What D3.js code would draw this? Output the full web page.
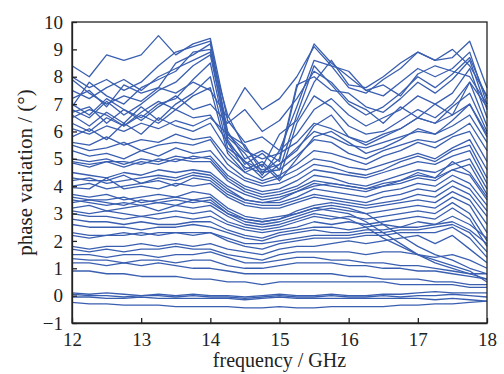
<!DOCTYPE html>
<html>
<head>
<meta charset="utf-8">
<script src="https://cdn.jsdelivr.net/npm/d3@7"></script>
<style>
  body { margin: 0; background: #fff; }
  svg { display: block; }
  text { font-family: "Liberation Serif", "Times New Roman", Times, "DejaVu Serif", serif; }
</style>
</head>
<body>
<svg id="chart"></svg>
<script>
// frequency samples (GHz)
const frequency = [12, 12.25, 12.5, 12.75, 13, 13.25, 13.5, 13.75, 14, 14.25, 14.5, 14.75,
    15, 15.25, 15.5, 15.75, 16, 16.25, 16.5, 16.75, 17, 17.25, 17.5, 17.75, 18];

// lines that peak near 14 GHz then collapse
const peakLines = [
    [8.4, 8.0, 8.8, 8.6, 8.8, 9.5, 8.8, 9.2, 9.4, 6.4, 5.6, 5.8, 5.3, 6.9, 8.6, 8.4, 7.6, 7.4, 7.9, 8.3, 8.9, 8.6, 8.7, 9.3, 7.6],
    [8.0, 7.6, 7.9, 7.5, 7.8, 8.4, 8.9, 9.1, 9.3, 6.0, 5.0, 5.3, 4.9, 7.6, 9.2, 8.5, 8.0, 7.5, 7.3, 7.8, 8.3, 8.0, 8.3, 8.9, 7.0],
    [7.5, 7.2, 7.6, 7.9, 7.5, 8.0, 8.3, 8.6, 8.9, 6.6, 5.4, 4.7, 5.9, 6.4, 7.8, 8.6, 7.7, 7.6, 8.0, 8.5, 8.9, 8.6, 9.0, 8.4, 7.3],
    [7.2, 7.5, 6.9, 7.7, 7.4, 7.6, 8.5, 8.8, 9.2, 5.9, 5.5, 4.5, 5.0, 7.7, 8.0, 7.5, 7.4, 6.9, 6.7, 7.2, 7.8, 7.4, 7.9, 8.6, 6.8],
    [6.9, 7.8, 7.3, 7.0, 7.6, 7.9, 8.2, 8.9, 9.0, 5.7, 4.8, 5.2, 4.6, 6.6, 8.4, 7.7, 7.0, 6.6, 6.9, 7.4, 8.0, 7.6, 8.1, 8.7, 7.2],
    [6.8, 6.5, 7.1, 6.6, 7.0, 7.5, 7.8, 8.4, 8.8, 5.8, 5.2, 4.4, 5.3, 5.9, 6.8, 7.2, 6.6, 6.2, 6.5, 6.8, 7.3, 7.0, 7.4, 8.3, 6.5],
    [6.7, 6.9, 6.3, 6.8, 6.5, 7.0, 7.2, 7.9, 8.5, 5.6, 4.6, 4.9, 4.3, 6.3, 7.3, 6.9, 6.2, 5.9, 6.0, 6.4, 6.8, 6.5, 7.0, 7.8, 6.2],
    [6.6, 6.2, 6.7, 6.3, 6.9, 6.4, 7.0, 7.4, 8.0, 5.4, 4.9, 4.3, 4.8, 5.3, 6.2, 6.6, 5.8, 5.5, 5.8, 6.1, 6.5, 6.3, 6.9, 7.4, 6.0],
    [6.5, 6.8, 6.6, 6.2, 6.7, 7.1, 6.8, 7.3, 7.6, 5.2, 4.5, 4.8, 4.2, 5.0, 5.8, 6.0, 5.6, 5.2, 5.4, 5.7, 6.1, 5.9, 6.4, 7.0, 5.8]
];

// lines with a bump around 14.5 GHz
const bumpLines = [
    [7.9, 7.4, 7.0, 7.3, 7.1, 7.6, 7.4, 7.8, 7.5, 6.5, 7.6, 6.8, 7.2, 8.0, 9.1, 8.4, 8.2, 7.5, 7.7, 7.3, 8.1, 8.4, 8.2, 8.0, 7.0],
    [7.0, 6.6, 7.2, 6.8, 6.4, 6.9, 7.3, 6.8, 7.0, 6.3, 6.8, 6.0, 6.4, 7.2, 8.2, 7.8, 7.1, 6.8, 6.3, 6.9, 6.5, 7.0, 6.6, 7.8, 6.9]
];

// middle band, 4.8 to 6.3 at 12 GHz
const midLines = [
    [6.3, 6.0, 6.5, 6.2, 6.6, 6.3, 6.8, 6.5, 6.6, 5.6, 4.9, 4.6, 4.8, 5.4, 6.0, 5.8, 5.5, 5.4, 5.6, 5.8, 6.0, 5.9, 6.2, 6.6, 5.6],
    [6.1, 5.9, 6.2, 6.0, 6.3, 6.1, 6.4, 6.2, 6.5, 5.9, 5.3, 5.0, 5.2, 5.6, 6.3, 6.1, 5.8, 5.6, 5.9, 6.1, 6.5, 6.3, 6.6, 7.0, 5.9],
    [5.8, 6.1, 5.7, 6.3, 5.9, 6.5, 6.2, 6.0, 6.3, 5.3, 4.7, 4.5, 4.6, 5.1, 5.7, 5.6, 5.2, 5.0, 5.3, 5.5, 5.7, 5.6, 5.9, 6.3, 5.3],
    [5.6, 5.5, 5.8, 5.5, 5.7, 5.6, 5.9, 5.7, 5.8, 5.0, 4.5, 4.2, 4.4, 4.8, 5.3, 5.2, 5.0, 4.8, 5.1, 5.3, 5.6, 5.4, 5.8, 6.0, 4.9],
    [5.5, 5.3, 5.4, 5.6, 5.3, 5.5, 5.6, 5.5, 5.7, 4.8, 4.3, 4.1, 4.3, 4.6, 5.0, 4.9, 4.7, 4.6, 4.8, 5.0, 5.2, 5.0, 5.4, 5.7, 4.6],
    [5.3, 5.1, 5.2, 5.0, 5.3, 5.1, 5.4, 5.2, 5.3, 4.6, 4.2, 4.0, 4.1, 4.4, 4.8, 4.7, 4.5, 4.4, 4.6, 4.9, 5.1, 4.9, 5.3, 5.5, 4.3],
    [5.0, 4.9, 5.0, 4.8, 5.0, 4.9, 5.1, 5.0, 5.1, 4.4, 4.0, 3.8, 3.9, 4.2, 4.6, 4.5, 4.4, 4.3, 4.5, 4.7, 4.9, 4.8, 5.1, 5.3, 4.1],
    [4.9, 4.8, 4.9, 4.9, 4.8, 5.0, 4.9, 5.1, 5.0, 4.3, 3.9, 3.7, 3.8, 4.0, 4.4, 4.3, 4.1, 4.0, 4.2, 4.4, 4.6, 4.5, 4.8, 5.0, 3.9],
    [4.85, 4.7, 4.9, 4.7, 4.9, 4.8, 5.0, 4.9, 4.9, 4.2, 3.8, 3.6, 3.7, 3.9, 4.2, 4.1, 4.0, 3.9, 4.0, 4.2, 4.4, 4.3, 4.6, 4.8, 3.7]
];

// lower middle band, 3 to 4.5
const lowMidLines = [
    [4.5, 4.4, 4.3, 4.5, 4.4, 4.6, 4.5, 4.6, 4.5, 4.0, 3.7, 3.5, 3.6, 3.8, 4.1, 4.0, 3.9, 3.8, 4.0, 4.1, 4.3, 4.2, 4.6, 4.4, 3.5],
    [4.3, 4.2, 4.2, 4.4, 4.1, 4.3, 4.2, 4.4, 4.3, 3.8, 3.5, 3.4, 3.4, 3.6, 3.9, 3.8, 3.7, 3.6, 3.8, 3.9, 4.1, 4.0, 4.4, 4.1, 3.3],
    [4.2, 4.3, 4.1, 4.2, 4.3, 4.4, 4.3, 4.5, 4.4, 3.9, 3.5, 3.4, 3.5, 3.8, 4.0, 4.1, 4.0, 3.9, 4.1, 4.2, 4.5, 4.3, 4.9, 4.5, 3.6],
    [4.0, 4.1, 3.9, 4.0, 4.1, 4.2, 4.0, 4.3, 4.2, 3.7, 3.4, 3.3, 3.3, 3.5, 3.7, 3.6, 3.5, 3.4, 3.6, 3.7, 3.9, 3.8, 4.2, 3.9, 3.1],
    [3.95, 3.9, 4.3, 3.9, 4.0, 3.9, 4.1, 4.0, 4.1, 3.6, 3.3, 3.2, 3.2, 3.4, 3.6, 3.5, 3.4, 3.3, 3.4, 3.5, 3.7, 3.6, 4.0, 3.7, 2.9],
    [3.7, 3.6, 3.7, 3.5, 3.6, 3.7, 3.6, 3.8, 3.7, 3.2, 2.9, 2.8, 2.9, 3.0, 3.2, 3.1, 3.0, 2.7, 2.3, 1.9, 1.5, 1.2, 1.0, 0.8, 0.6],
    [3.6, 3.5, 3.5, 3.6, 3.4, 3.5, 3.6, 3.5, 3.6, 3.1, 2.8, 2.7, 2.8, 3.1, 3.3, 3.4, 3.3, 3.2, 3.3, 3.4, 3.5, 3.4, 3.8, 3.5, 2.6],
    [3.5, 3.4, 3.3, 3.4, 3.3, 3.4, 3.3, 3.5, 3.4, 3.0, 2.7, 2.6, 2.7, 2.9, 3.1, 3.2, 3.1, 3.0, 3.1, 3.2, 3.3, 3.2, 3.6, 3.3, 2.3],
    [3.4, 3.5, 3.4, 3.3, 3.5, 3.4, 3.5, 3.4, 3.5, 3.0, 2.8, 2.7, 2.8, 3.0, 3.2, 3.3, 3.2, 3.0, 2.6, 2.2, 1.8, 1.5, 1.3, 1.0, 0.8],
    [3.2, 3.3, 3.1, 3.2, 3.3, 3.1, 3.3, 3.2, 3.3, 2.9, 2.6, 2.5, 2.6, 2.8, 3.0, 2.9, 2.8, 2.5, 2.1, 1.8, 1.5, 1.3, 1.1, 0.9, 0.5],
    [3.1, 3.0, 3.1, 3.0, 2.9, 3.0, 3.1, 3.0, 3.1, 2.7, 2.5, 2.4, 2.5, 2.7, 2.9, 2.8, 2.9, 2.8, 2.9, 3.0, 3.1, 3.0, 3.4, 3.0, 2.0],
    [3.0, 2.9, 2.9, 2.8, 2.9, 2.8, 2.9, 2.8, 2.9, 2.6, 2.4, 2.3, 2.4, 2.5, 2.7, 2.6, 2.7, 2.6, 2.7, 2.8, 2.9, 2.8, 3.2, 2.8, 1.8]
];

// low band, 0.9 to 2.8
const lowLines = [
    [2.8, 2.7, 2.7, 2.6, 2.7, 2.6, 2.6, 2.7, 2.7, 2.4, 2.2, 2.1, 2.3, 2.4, 2.5, 2.5, 2.4, 2.5, 2.6, 2.5, 2.7, 2.6, 2.9, 2.6, 2.1],
    [2.6, 2.5, 2.5, 2.5, 2.4, 2.5, 2.5, 2.6, 2.5, 2.3, 2.1, 2.0, 2.2, 2.3, 2.4, 2.3, 2.3, 2.4, 2.4, 2.5, 2.5, 2.6, 2.7, 2.4, 1.9],
    [2.3, 2.2, 2.2, 2.3, 2.2, 2.3, 2.3, 2.2, 2.3, 2.1, 1.9, 1.9, 2.0, 2.1, 2.2, 2.2, 2.2, 2.3, 2.3, 2.4, 2.4, 2.5, 2.6, 2.3, 1.6],
    [2.2, 2.1, 2.2, 2.2, 2.3, 2.2, 2.3, 2.3, 2.3, 2.0, 1.8, 1.7, 1.9, 2.0, 2.1, 2.1, 2.1, 2.2, 2.2, 2.3, 2.3, 2.3, 2.5, 2.1, 1.4],
    [1.8, 1.7, 1.8, 1.8, 1.9, 1.8, 1.9, 1.8, 1.9, 1.7, 1.6, 1.5, 1.7, 1.8, 1.8, 1.9, 2.0, 1.9, 2.0, 2.1, 2.2, 1.9, 2.2, 1.7, 1.2],
    [1.7, 1.6, 1.7, 1.6, 1.7, 1.7, 1.8, 1.7, 1.7, 1.5, 1.4, 1.3, 1.5, 1.6, 1.6, 1.6, 1.6, 1.5, 1.6, 1.6, 1.5, 1.4, 1.5, 1.3, 1.0],
    [1.5, 1.5, 1.4, 1.5, 1.5, 1.4, 1.5, 1.5, 1.6, 1.4, 1.2, 1.2, 1.3, 1.4, 1.4, 1.3, 1.3, 1.2, 1.2, 1.1, 1.1, 1.0, 0.9, 0.8, 0.8],
    [1.35, 1.3, 1.3, 1.2, 1.3, 1.3, 1.2, 1.3, 1.3, 1.1, 1.0, 1.0, 1.1, 1.2, 1.2, 1.2, 1.1, 1.1, 1.0, 1.0, 0.9, 0.9, 0.8, 0.7, 0.6],
    [1.2, 1.2, 1.1, 1.2, 1.1, 1.2, 1.1, 1.0, 1.0, 0.9, 0.8, 0.8, 0.8, 0.8, 0.8, 0.8, 0.7, 0.7, 0.6, 0.6, 0.6, 0.5, 0.5, 0.4, 0.4],
    [0.9, 0.9, 0.8, 0.8, 0.7, 0.7, 0.7, 0.6, 0.6, 0.5, 0.5, 0.4, 0.5, 0.5, 0.5, 0.5, 0.5, 0.5, 0.5, 0.4, 0.4, 0.4, 0.4, 0.3, 0.3]
];

// lines near zero
const baseLines = [
    [0.1, 0.05, 0.1, 0.05, 0.0, 0.05, 0.0, 0.05, 0.0, 0.0, -0.05, 0.0, 0.05, 0.0, 0.0, 0.05, 0.0, 0.0, 0.05, 0.05, 0.1, 0.15, 0.1, 0.1, 0.1],
    [0.05, 0.0, 0.0, -0.05, 0.0, 0.0, -0.05, 0.0, -0.05, -0.05, -0.1, -0.05, 0.0, -0.05, -0.05, 0.0, -0.05, -0.05, 0.0, -0.05, 0.0, 0.0, 0.05, 0.0, -0.05],
    [-0.05, -0.05, -0.1, -0.1, -0.05, -0.1, -0.1, -0.1, -0.1, -0.1, -0.15, -0.1, -0.05, -0.1, -0.1, -0.1, -0.1, -0.1, -0.1, -0.1, -0.1, -0.15, -0.1, -0.15, -0.2],
    [-0.25, -0.3, -0.3, -0.35, -0.35, -0.35, -0.4, -0.4, -0.4, -0.4, -0.45, -0.45, -0.4, -0.45, -0.45, -0.4, -0.4, -0.4, -0.4, -0.35, -0.35, -0.3, -0.3, -0.25, -0.2]
];

const xTicks = [12, 13, 14, 15, 16, 17, 18];
const yTicks = [-1, 0, 1, 2, 3, 4, 5, 6, 7, 8, 9, 10];

const width = 504, height = 374;
const margin = { top: 22, right: 17, bottom: 51, left: 72 };
const lineColor = "#3a5fb0";
const serif = '"Liberation Serif", "Times New Roman", Times, "DejaVu Serif", serif';

const svg = d3.select("#chart")
    .attr("width", width)
    .attr("height", height);

const x = d3.scaleLinear().domain([12, 18]).range([margin.left, width - margin.right]);
const y = d3.scaleLinear().domain([-1, 10]).range([height - margin.bottom, margin.top]);

const allLines = [].concat(peakLines, bumpLines, midLines, lowMidLines, lowLines, baseLines);

const line = d3.line()
    .x((d, i) => x(frequency[i]))
    .y(d => y(d));

svg.append("g")
    .selectAll("path")
    .data(allLines)
    .enter().append("path")
    .attr("d", line)
    .attr("fill", "none")
    .attr("stroke", lineColor)
    .attr("stroke-width", 1.3)
    .attr("stroke-linejoin", "round");

// frame
svg.append("rect")
    .attr("x", margin.left)
    .attr("y", margin.top)
    .attr("width", width - margin.left - margin.right)
    .attr("height", height - margin.top - margin.bottom)
    .attr("fill", "none")
    .attr("stroke", "#222")
    .attr("stroke-width", 1.3);

// axes with inward ticks
const xAxis = svg.append("g")
    .attr("transform", `translate(0,${height - margin.bottom})`)
    .call(d3.axisBottom(x).tickValues(xTicks).tickSizeInner(-5).tickSizeOuter(0).tickPadding(10)
        .tickFormat(d3.format("d")));

const yAxis = svg.append("g")
    .attr("transform", `translate(${margin.left},0)`)
    .call(d3.axisLeft(y).tickValues(yTicks).tickSizeInner(-5).tickSizeOuter(0).tickPadding(9)
        .tickFormat(d => d < 0 ? "\u2212" + Math.abs(d) : String(d)));

[xAxis, yAxis].forEach(g => {
    g.attr("font-family", serif).attr("font-size", 19);
    g.select(".domain").attr("stroke", "#222").attr("stroke-width", 1.3);
    g.selectAll(".tick line").attr("stroke", "#222").attr("stroke-width", 1.3);
    g.selectAll(".tick text").attr("fill", "#222");
});

svg.append("text")
    .attr("x", (margin.left + width - margin.right) / 2)
    .attr("y", 367)
    .attr("text-anchor", "middle")
    .attr("fill", "#222")
    .attr("font-family", serif)
    .attr("font-size", 20)
    .text("frequency / GHz");

svg.append("text")
    .attr("transform", `translate(32,${(margin.top + height - margin.bottom) / 2}) rotate(-90)`)
    .attr("text-anchor", "middle")
    .attr("fill", "#222")
    .attr("font-family", serif)
    .attr("font-size", 21)
    .text("phase variation / (\u00b0)");
</script>
</body>
</html>
